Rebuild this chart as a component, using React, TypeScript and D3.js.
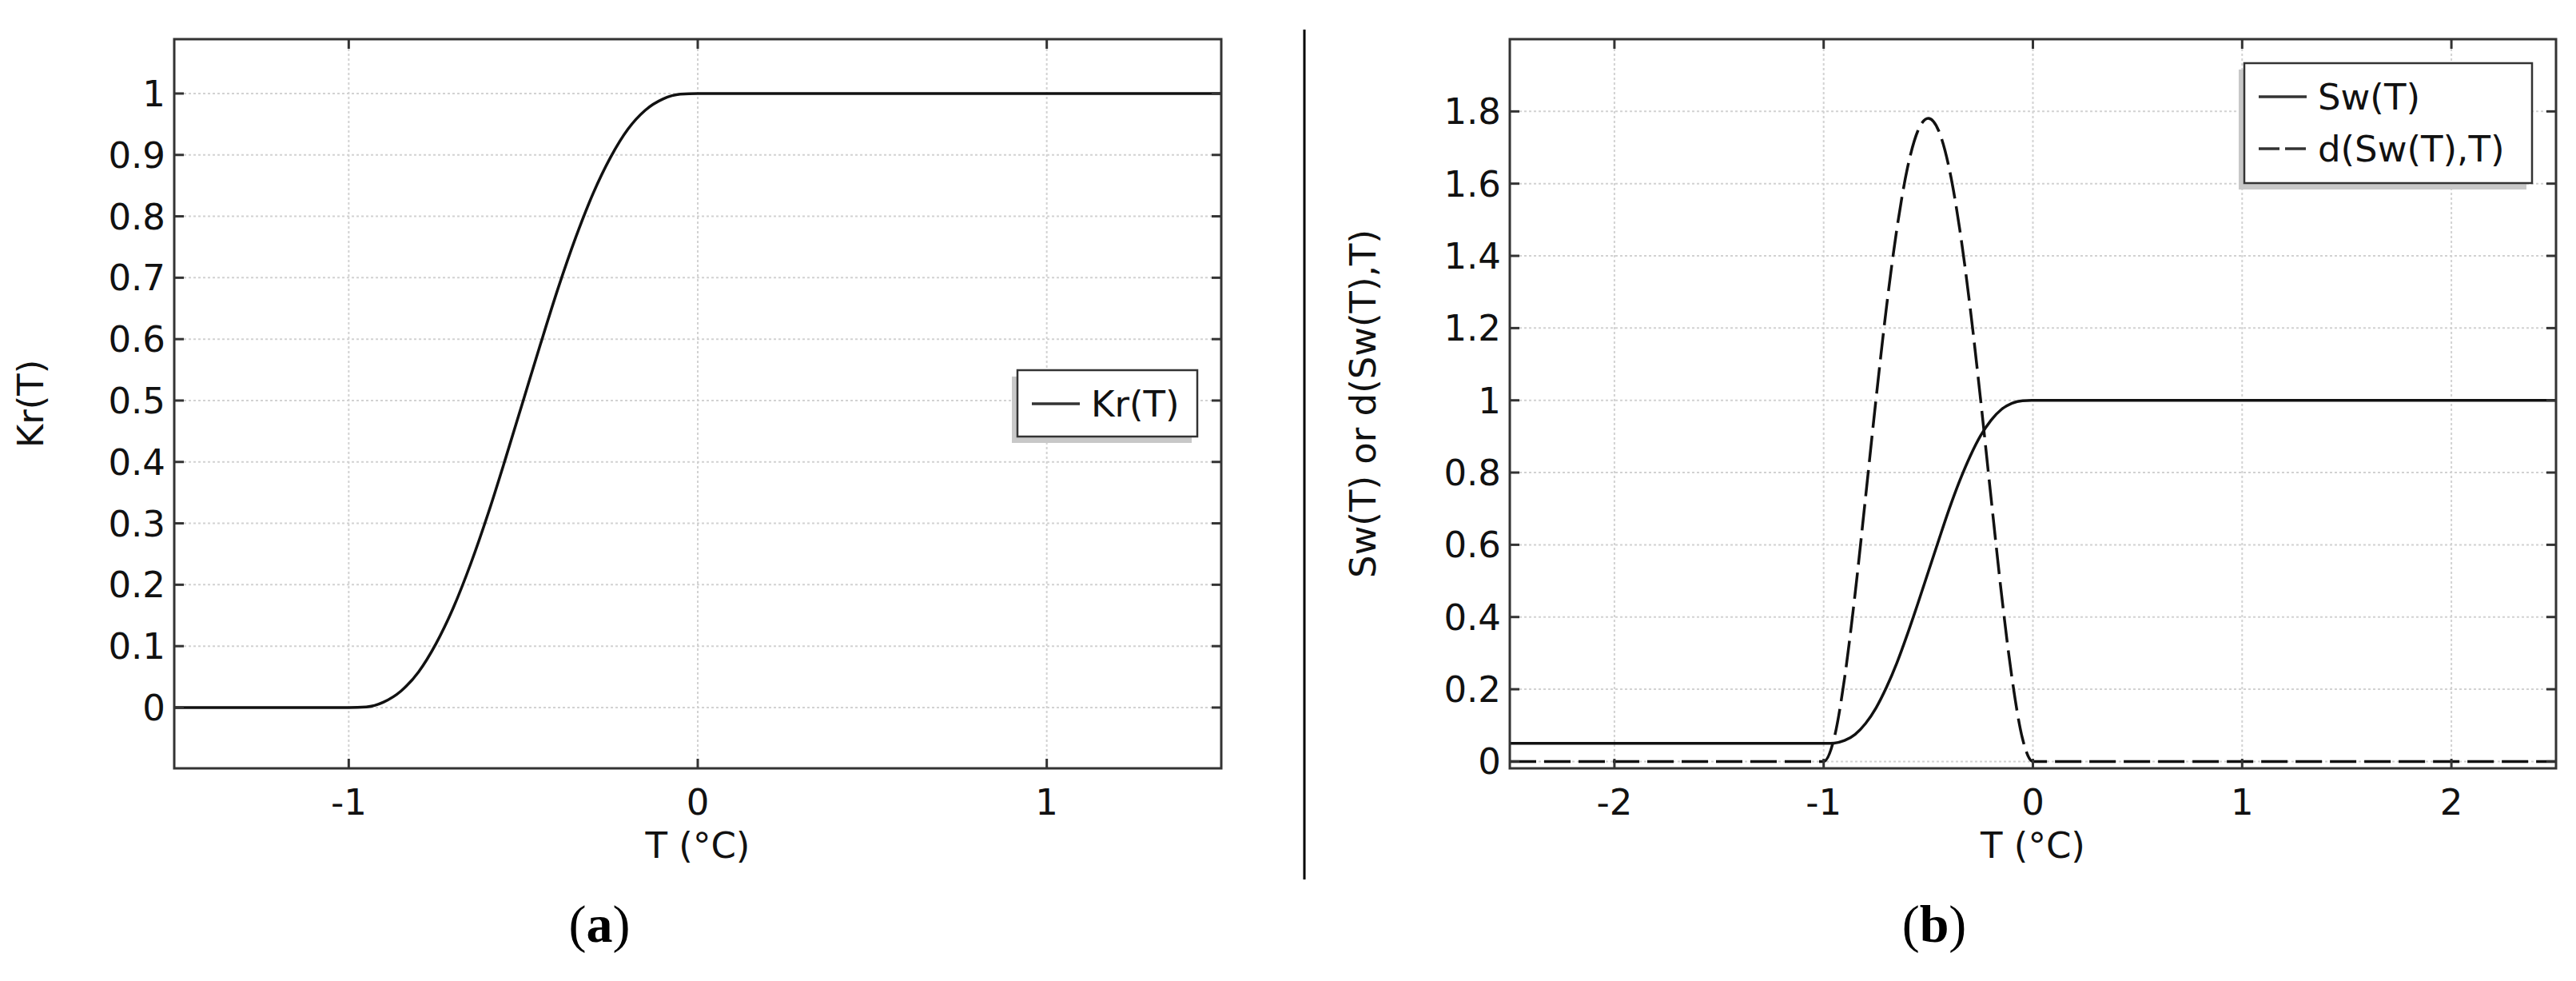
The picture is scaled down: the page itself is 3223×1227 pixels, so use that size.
import React from 'react';
import * as d3 from 'd3';

// temperature samples (°C) and values
const tempA = [-1.5, -1, -0.95, -0.9, -0.85, -0.8, -0.75, -0.7, -0.65, -0.6, -0.55, -0.5, -0.45, -0.4, -0.35, -0.3, -0.25, -0.2, -0.15, -0.1, -0.05, 0, 1.5];
const krValues = [0, 0, 0.001, 0.009, 0.027, 0.058, 0.104, 0.163, 0.235, 0.317, 0.407, 0.5, 0.593, 0.683, 0.765, 0.837, 0.896, 0.942, 0.973, 0.991, 0.999, 1, 1];

// panel (b)
const tempB = [-2.5, -1, -0.95, -0.9, -0.85, -0.8, -0.75, -0.7, -0.65, -0.6, -0.55, -0.5, -0.45, -0.4, -0.35, -0.3, -0.25, -0.2, -0.15, -0.1, -0.05, 0, 2.5];
const swValues = [0.05, 0.05, 0.051, 0.058, 0.075, 0.105, 0.148, 0.205, 0.273, 0.352, 0.437, 0.525, 0.613, 0.699, 0.777, 0.845, 0.902, 0.945, 0.975, 0.992, 0.999, 1, 1];
const dSwValues = [0, 0, 0.064, 0.231, 0.463, 0.73, 1.002, 1.257, 1.475, 1.642, 1.746, 1.781, 1.746, 1.642, 1.475, 1.257, 1.002, 0.73, 0.463, 0.231, 0.064, 0, 0];

const ticksXA = [-1, 0, 1];
const ticksYA = [0, 0.1, 0.2, 0.3, 0.4, 0.5, 0.6, 0.7, 0.8, 0.9, 1];
const ticksXB = [-2, -1, 0, 1, 2];
const ticksYB = [0, 0.2, 0.4, 0.6, 0.8, 1, 1.2, 1.4, 1.6, 1.8];

const W = 3223;
const H = 1227;
const FONT = '"DejaVu Sans", Verdana, sans-serif';
const FS = 45;
const AXIS = '#333';
const GRID = '#d2d2d2';

type Series = { xs: number[]; ys: number[]; dash?: string; legendDash?: string; name: string };

const Panel = ({ left, right, top, bottom, xDomain, yDomain, xTicks, yTicks, series, yTitle, yTitleX, legend }: any) => {
  const x = d3.scaleLinear().domain(xDomain).range([left, right]);
  const y = d3.scaleLinear().domain(yDomain).range([bottom, top]);
  const line = d3.line<[number, number]>()
    .x(d => x(d[0]))
    .y(d => y(d[1]))
    .curve(d3.curveMonotoneX);
  const tickLen = 12;
  const midX = (left + right) / 2;
  const midY = (top + bottom) / 2;

  return (
    <g>
      {/* grid */}
      {xTicks.map((t: number) => (
        <line key={'gx' + t} x1={x(t)} x2={x(t)} y1={top} y2={bottom} stroke={GRID} strokeWidth={2} strokeDasharray="3,3" />
      ))}
      {yTicks.map((t: number) => (
        <line key={'gy' + t} x1={left} x2={right} y1={y(t)} y2={y(t)} stroke={GRID} strokeWidth={2} strokeDasharray="3,3" />
      ))}

      {/* curves */}
      {series.map((s: Series) => (
        <path key={s.name} d={line(s.xs.map((v, i) => [v, s.ys[i]]) as [number, number][]) || ''}
          fill="none" stroke="#111" strokeWidth={3.5} strokeDasharray={s.dash} />
      ))}

      {/* frame and ticks */}
      <rect x={left} y={top} width={right - left} height={bottom - top} fill="none" stroke={AXIS} strokeWidth={3} />
      {xTicks.map((t: number) => (
        <g key={'tx' + t}>
          <line x1={x(t)} x2={x(t)} y1={bottom} y2={bottom - tickLen} stroke={AXIS} strokeWidth={3} />
          <line x1={x(t)} x2={x(t)} y1={top} y2={top + tickLen} stroke={AXIS} strokeWidth={3} />
          <text x={x(t)} y={bottom + 58} textAnchor="middle" fontFamily={FONT} fontSize={FS} fill="#111">{String(t)}</text>
        </g>
      ))}
      {yTicks.map((t: number) => (
        <g key={'ty' + t}>
          <line x1={left} x2={left + tickLen} y1={y(t)} y2={y(t)} stroke={AXIS} strokeWidth={3} />
          <line x1={right} x2={right - tickLen} y1={y(t)} y2={y(t)} stroke={AXIS} strokeWidth={3} />
          <text x={left - 11} y={y(t) + 16} textAnchor="end" fontFamily={FONT} fontSize={FS} fill="#111">{String(t)}</text>
        </g>
      ))}

      {/* axis titles */}
      <text x={midX} y={bottom + 112} textAnchor="middle" fontFamily={FONT} fontSize={FS} fill="#111">T (°C)</text>
      <text transform={`translate(${yTitleX},${midY}) rotate(-90)`} textAnchor="middle" fontFamily={FONT} fontSize={FS} fill="#111">{yTitle}</text>

      {/* legend */}
      <rect x={legend.x - 7} y={legend.y + 8} width={legend.w} height={legend.h} fill="#c8c8c8" />
      <rect x={legend.x} y={legend.y} width={legend.w} height={legend.h} fill="#fff" stroke={AXIS} strokeWidth={2.5} />
      {series.map((s: Series, i: number) => {
        const ly = legend.y + legend.first + i * 65;
        return (
          <g key={'lg' + s.name}>
            <line x1={legend.x + 18} x2={legend.x + 78} y1={ly} y2={ly} stroke="#333" strokeWidth={3.5} strokeDasharray={s.legendDash} />
            <text x={legend.x + 92} y={ly + 16} fontFamily={FONT} fontSize={FS} fill="#111">{s.name}</text>
          </g>
        );
      })}
    </g>
  );
};

export default function App() {
  const seriesA: Series[] = [{ xs: tempA, ys: krValues, name: 'Kr(T)' }];
  const seriesB: Series[] = [
    { xs: tempB, ys: swValues, name: 'Sw(T)' },
    { xs: tempB, ys: dSwValues, name: 'd(Sw(T),T)', dash: '33,10', legendDash: '26,7' },
  ];

  return (
    <svg width={W} height={H} style={{ position: 'absolute', left: 0, top: 0, display: 'block', background: '#fff' }}>
      <rect width={W} height={H} fill="#fff" />
      <Panel left={218} right={1528} top={49} bottom={961}
        xDomain={[-1.5, 1.5]} yDomain={[-0.099, 1.0885]}
        xTicks={ticksXA} yTicks={ticksYA} series={seriesA}
        yTitle="Kr(T)" yTitleX={54}
        legend={{ x: 1273, y: 463, w: 225, h: 83, first: 42 }} />
      <Panel left={1889} right={3198} top={49} bottom={961}
        xDomain={[-2.5, 2.5]} yDomain={[-0.019, 2.0]}
        xTicks={ticksXB} yTicks={ticksYB} series={seriesB}
        yTitle="Sw(T) or d(Sw(T),T)" yTitleX={1721}
        legend={{ x: 2808, y: 79, w: 360, h: 150, first: 42 }} />

      {/* divider between the two panels */}
      <line x1={1632} x2={1632} y1={37} y2={1100} stroke="#000" strokeWidth={3} />

      {/* captions */}
      <text x={750} y={1178} textAnchor="middle" fontFamily='"Liberation Serif", "Times New Roman", serif' fontSize={66} fill="#000">
        (<tspan fontWeight="bold">a</tspan>)
      </text>
      <text x={2420} y={1178} textAnchor="middle" fontFamily='"Liberation Serif", "Times New Roman", serif' fontSize={66} fill="#000">
        (<tspan fontWeight="bold">b</tspan>)
      </text>
    </svg>
  );
}
